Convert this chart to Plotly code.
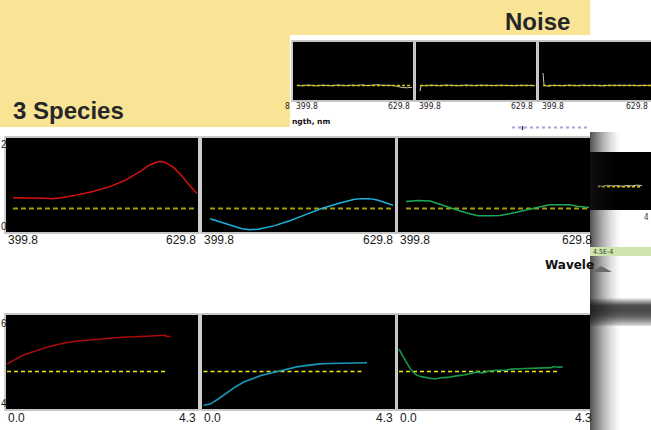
import plotly.graph_objects as go

W, H = 651, 430

# ---------------- data ----------------
spec_wl_red = [399.8, 420, 440, 450, 460, 480, 500, 520, 540, 560, 570, 580, 585, 590, 600, 610, 620, 629.8]
spec_red = [0.23, 0.23, 0.22, 0.21, 0.23, 0.29, 0.36, 0.46, 0.60, 0.80, 0.92, 0.99, 1.0, 0.98, 0.88, 0.71, 0.50, 0.32]

spec_wl_cyan = [399.8, 420, 440, 450, 460, 480, 500, 520, 540, 560, 580, 590, 600, 610, 620, 629.8]
spec_cyan = [-0.22, -0.33, -0.43, -0.45, -0.44, -0.37, -0.26, -0.13, 0.0, 0.10, 0.19, 0.21, 0.21, 0.18, 0.13, 0.07]

spec_wl_green = [399.8, 415, 430, 445, 460, 475, 490, 505, 518, 530, 545, 560, 570, 580, 595, 605, 615, 629.8]
spec_green = [0.15, 0.17, 0.16, 0.07, -0.01, -0.09, -0.155, -0.155, -0.15, -0.11, -0.05, 0.0, 0.04, 0.08, 0.08, 0.08, 0.05, 0.02]

kin_t_red = [0.0, 0.1, 0.23, 0.4, 0.59, 0.75, 0.9, 1.1, 1.36, 1.6, 1.88, 2.17, 2.4, 2.6, 2.9, 3.2, 3.5, 3.58, 3.62, 3.7]
kin_red = [0.20, 0.26, 0.36, 0.45, 0.52, 0.59, 0.64, 0.70, 0.77, 0.81, 0.84, 0.88, 0.89, 0.91, 0.92, 0.93, 0.94, 0.96, 0.93, 0.93]

kin_t_cyan = [0.0, 0.15, 0.35, 0.55, 0.71, 0.9, 1.12, 1.3, 1.44, 1.6, 1.73, 1.9, 2.11, 2.35, 2.63, 2.85, 3.09, 3.4, 3.7]
kin_cyan = [-0.90, -0.87, -0.72, -0.55, -0.42, -0.29, -0.18, -0.11, -0.07, -0.02, 0.01, 0.07, 0.12, 0.16, 0.20, 0.21, 0.22, 0.23, 0.23]

kin_t_green = [0.0, 0.07, 0.14, 0.2, 0.25, 0.32, 0.4, 0.5, 0.59, 0.7, 0.81, 0.95, 1.1, 1.3, 1.5, 1.75, 1.9, 2.0, 2.2, 2.4, 2.55, 2.73, 2.9, 3.0, 3.1, 3.2, 3.32, 3.45, 3.5, 3.6, 3.7]
kin_green = [0.59, 0.46, 0.30, 0.18, 0.08, -0.02, -0.10, -0.14, -0.16, -0.17, -0.20, -0.17, -0.16, -0.12, -0.09, -0.02, -0.04, 0.0, 0.03, 0.03, 0.06, 0.07, 0.08, 0.09, 0.08, 0.10, 0.11, 0.10, 0.13, 0.11, 0.12]

noise_wl = [399.8, 402, 410, 420, 430, 440, 450, 460, 470, 480, 490, 500, 510, 520, 530, 540, 550, 560, 570, 580, 590, 600, 610, 620, 629.8]
noise_a = [0.005, 0.004, -0.006, 0.008, 0.0, -0.007, 0.006, 0.002, -0.005, 0.009, 0.003, -0.004, 0.007, 0.0, 0.011, -0.003, 0.006, 0.013, 0.004, 0.009, 0.002, -0.015, -0.035, -0.04, -0.03]
noise_b = [-0.095, 0.0, -0.004, 0.006, 0.002, -0.006, 0.008, 0.0, 0.005, -0.004, 0.007, 0.002, -0.003, 0.006, 0.001, 0.008, -0.002, 0.005, 0.0, 0.007, -0.004, 0.004, 0.009, 0.001, -0.003]
noise_c = [0.215, 0.0, -0.012, 0.004, 0.0, -0.005, 0.006, 0.002, -0.004, 0.007, -0.002, 0.005, 0.0, -0.006, 0.004, 0.001, 0.006, -0.003, 0.002, 0.005, -0.004, 0.003, -0.002, 0.004, 0.0]
noise_d = [0.0, 0.004, -0.006, 0.008, 0.0, -0.007, 0.006, 0.002, -0.005, 0.009, 0.003, -0.004, 0.007, 0.0, 0.011, 0.02, 0.01, 0.025, 0.015, 0.02, 0.01, 0.022, 0.015, 0.03, 0.02]

zero_wl = [399.8, 629.8]
zero_t = [0.0, 3.6]
zero_val = [0.0, 0.0]

spec_labels = ["399.8", "629.8"]
kin_labels = ["0.0", "4.3"]

# ---------------- helpers ----------------
def X(p):
    return p / W

def Y(p):
    return 1 - p / H

fig = go.Figure()

# panel id: (x0, x1, y0, y1, xrange, yrange)
panels = {
    1: (293, 413, 42, 100, [391.8, 631.8], [-0.25, 0.75]),
    2: (416, 536, 42, 100, [391.8, 631.8], [-0.25, 0.75]),
    3: (539, 651, 42, 100, [391.8, 615.8], [-0.25, 0.75]),
    4: (598, 651, 152, 210, [541.8, 647.8], [-0.4, 0.6]),
    5: (6, 198, 138, 232, [391.05, 631.05], [-0.5, 1.5]),
    6: (202, 395, 138, 232, [389.7, 632.3], [-0.5, 1.5]),
    7: (398, 591, 138, 232, [389.7, 632.3], [-0.5, 1.5]),
    8: (6, 198, 315, 409, [-0.0226, 4.3226], [-1.0, 1.5]),
    9: (202, 395, 315, 409, [-0.034, 4.334], [-1.0, 1.5]),
    10: (398, 591, 315, 409, [-0.0226, 4.345], [-1.0, 1.5]),
}

layout_axes = {}
for i, (x0, x1, y0, y1, xr, yr) in panels.items():
    sfx = "" if i == 1 else str(i)
    common = dict(showgrid=False, zeroline=False, showline=False, showticklabels=False,
                  ticks="", fixedrange=True)
    layout_axes["xaxis" + sfx] = dict(domain=[X(x0), X(x1)], range=xr, anchor="y" + sfx, **common)
    layout_axes["yaxis" + sfx] = dict(domain=[Y(y1), Y(y0)], range=yr, anchor="x" + sfx, **common)


def add_line(i, xs, ys, color, width=1.5, dash=None):
    sfx = "" if i == 1 else str(i)
    fig.add_trace(go.Scatter(x=xs, y=ys, mode="lines",
                             line=dict(color=color, width=width, dash=dash),
                             xaxis="x" + sfx, yaxis="y" + sfx, hoverinfo="skip", showlegend=False))

# noise panels
for i, vals in [(1, noise_a), (2, noise_b), (3, noise_c), (4, noise_d)]:
    add_line(i, noise_wl, vals, "#c8c8b8", 1.0)
    add_line(i, zero_wl, zero_val, "#d8cc00", 1.6, "3px,2px")

# spectra
add_line(5, zero_wl, zero_val, "#a89c00", 2, "5px,3px")
add_line(6, zero_wl, zero_val, "#a89c00", 2, "5px,3px")
add_line(7, zero_wl, zero_val, "#a89c00", 2, "5px,3px")
add_line(5, spec_wl_red, spec_red, "#d81010", 1.5)
add_line(6, spec_wl_cyan, spec_cyan, "#1cb2dc", 1.5)
add_line(7, spec_wl_green, spec_green, "#1aa85a", 1.5)

# kinetics
add_line(8, zero_t, zero_val, "#eeee10", 1.5, "4px,3px")
add_line(9, zero_t, zero_val, "#eeee10", 1.5, "4px,3px")
add_line(10, zero_t, zero_val, "#eeee10", 1.5, "4px,3px")
add_line(8, kin_t_red, kin_red, "#a80c0c", 1.6)
add_line(9, kin_t_cyan, kin_cyan, "#1898bc", 1.6)
add_line(10, kin_t_green, kin_green, "#18984a", 1.6)

# ---------------- shapes ----------------
shapes = []

def rect(x0, y0, x1, y1, fill="rgba(0,0,0,0)", line=None, lw=0, layer="above"):
    shapes.append(dict(type="rect", xref="paper", yref="paper",
                       x0=X(x0), x1=X(x1), y0=Y(y1), y1=Y(y0),
                       fillcolor=fill, line=dict(color=line or "rgba(0,0,0,0)", width=lw),
                       layer=layer))

# yellow slide background
YEL = "#f9e496"
rect(0, 0, 590, 35, YEL, layer="below")
rect(0, 35, 290, 127, YEL, layer="below")

# panel borders
for i, (x0, x1, y0, y1, xr, yr) in panels.items():
    if i == 4:
        continue
    xe = x1 + 1 if i != 3 else 700
    rect(x0 - 1, y0 - 1, xe, y1 + 1, line="#b4b4b4", lw=1.3)

# right side overlapping window with shadow
rect(590, 128, 652, 152, "#ffffff")
rect(590, 210, 652, 431, "#ffffff")
rect(590, 152, 598, 210, "#000000")
# top-edge shadow band of lower window (vertical gradient, 1px steps)
stops = [(298, 235), (302, 140), (305, 78), (310, 72), (315, 92), (319, 130), (323, 185), (326, 240)]
for k in range(len(stops) - 1):
    ya, ca = stops[k]
    yb, cb = stops[k + 1]
    for yy in range(ya, yb):
        c = int(ca + (cb - ca) * (yy - ya) / (yb - ya))
        rect(590, yy, 652, yy + 1.05, "rgb(%d,%d,%d)" % (c, c, c))
# left shadow gradient (1px steps)
n = 32
for k in range(n):
    a = 0.72 * (1 - k / n) ** 1.6
    rect(590 + k, 132, 591.05 + k, 431, "rgba(20,20,20,%.3f)" % a)
# green status bar
rect(590, 247, 652, 256, "#cde5ad")
# small scroll arrow
shapes.append(dict(type="path", xref="paper", yref="paper",
                   path="M %f %f L %f %f L %f %f Z" % (X(592), Y(272), X(601), Y(266), X(612), Y(272)),
                   fillcolor="#6a6a6a", line=dict(width=0), layer="above"))
# cut-off blue heading remnant
shapes.append(dict(type="line", xref="paper", yref="paper", x0=X(512), x1=X(590), y0=Y(127.5), y1=Y(127.5),
                   line=dict(color="#a4a4dc", width=2, dash="dot"), layer="above"))
shapes.append(dict(type="line", xref="paper", yref="paper", x0=X(522.5), x1=X(522.5), y0=Y(126), y1=Y(130),
                   line=dict(color="#2a2a90", width=1.5), layer="above"))

# ---------------- annotations ----------------
anns = []

def ann(text, x, y, size=12, xanchor="left", color="#1a1a1a",
        family="Liberation Sans, Arial, sans-serif"):
    anns.append(dict(text=text, x=X(x), y=Y(y), xref="paper", yref="paper",
                     xanchor=xanchor, yanchor="middle", showarrow=False,
                     font=dict(size=size, color=color, family=family)))

ann("<b>Noise</b>", 572, 22, 24, "right", "#262626")
ann("<b>3 Species</b>", 11, 110, 24, "left", "#262626")

# spectral ticks
for x0, x1 in [(6, 198), (202, 395), (398, 594)]:
    ann(spec_labels[0], x0, 240, 12, "left")
    ann(spec_labels[1], x1, 240, 12, "right")
for x0, x1 in [(6, 198), (202, 395), (398, 594)]:
    ann(kin_labels[0], x0, 418, 12, "left")
    ann(kin_labels[1], x1, 418, 12, "right")

# y labels at left edge (kept fully visible)
for txt, yy in [("2", 144), ("0", 226), ("6", 323), ("4", 403)]:
    anns.append(dict(text=txt, x=0, y=Y(yy), xref="paper", yref="paper",
                     xanchor="left", yanchor="middle", showarrow=False, borderpad=0,
                     font=dict(size=10, color="#1a1a1a", family="Liberation Sans Narrow, Arial Narrow, Liberation Sans, sans-serif")))

# noise ticks
NF = "Liberation Sans Narrow, Arial Narrow, DejaVu Sans Condensed, sans-serif"
for x0, x1 in [(294, 412), (417, 535), (540, 650)]:
    ann(spec_labels[0], x0, 106, 8.5, "left", "#222", NF)
    ann(spec_labels[1], x1, 106, 8.5, "right", "#222", NF)
ann("8", 292, 106, 8.5, "right", "#222", NF)
ann("<b>ngth, nm</b>", 290, 121, 7.5, "left", "#111", "DejaVu Sans, sans-serif")

ann("<b>Wavele</b>", 543, 265, 12, "left", "#111", "DejaVu Sans, Verdana, sans-serif")
ann("4.5E-4", 591, 251.5, 7, "left", "#333", NF)
ann("4", 651, 217, 8, "right", "#333", NF)

fig.update_layout(
    width=W, height=H, margin=dict(l=0, r=0, t=0, b=0),
    paper_bgcolor="#ffffff", plot_bgcolor="#000000",
    showlegend=False, shapes=shapes, annotations=anns, **layout_axes,
)

fig.write_html("out.html", config={"displayModeBar": False})
